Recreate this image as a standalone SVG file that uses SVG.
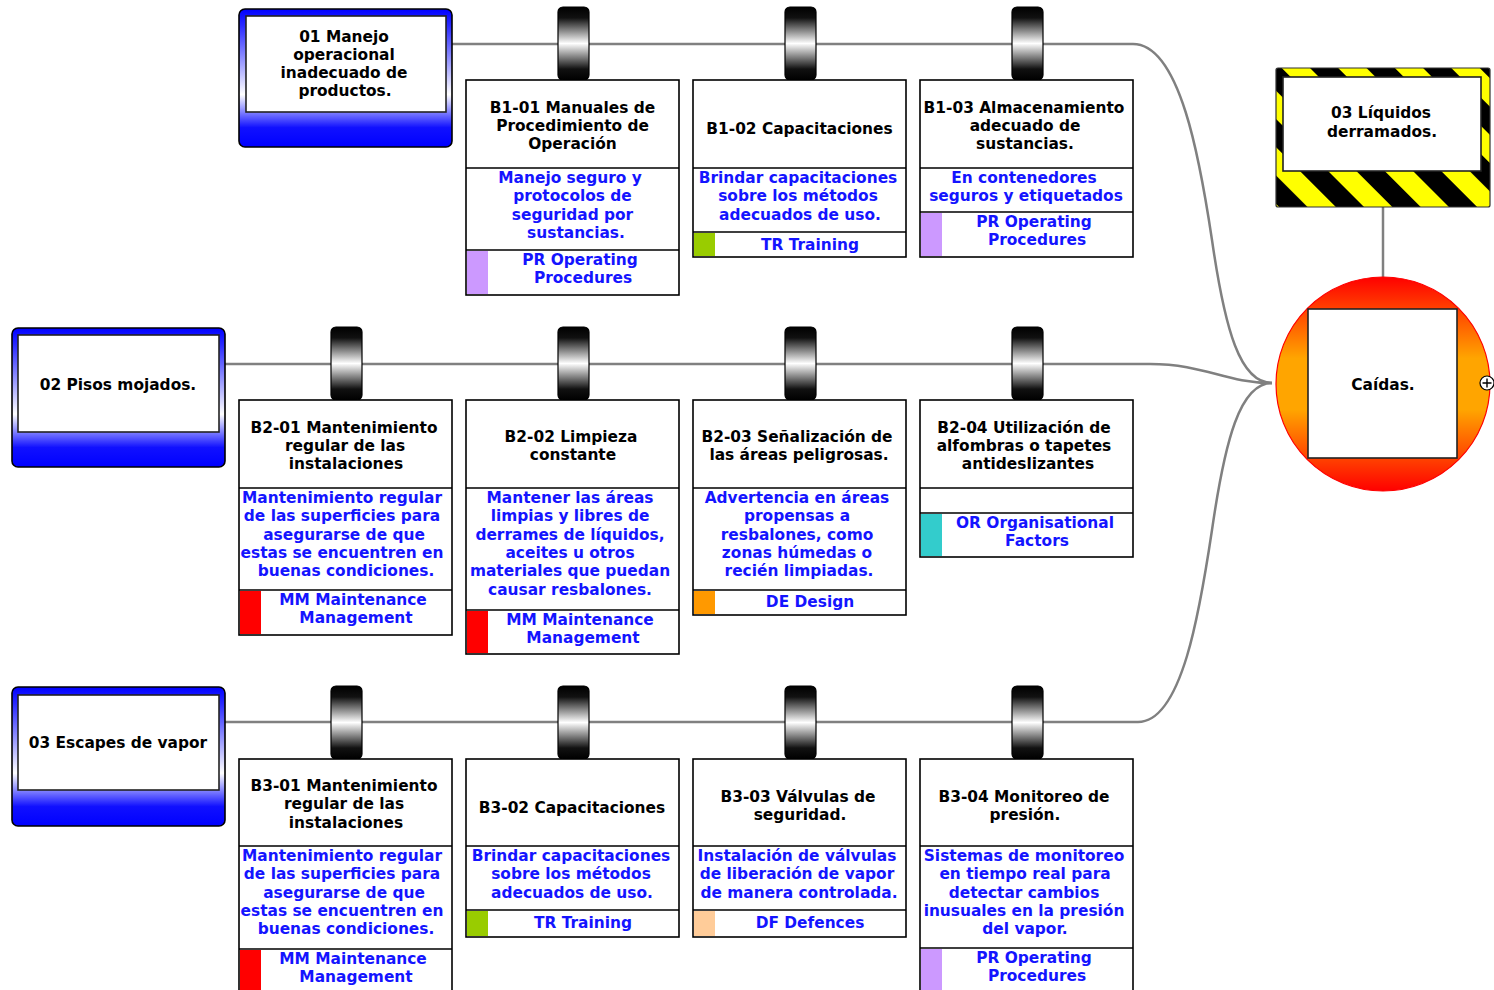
<svg xmlns="http://www.w3.org/2000/svg" width="1494" height="990" viewBox="0 0 1494 990">
<defs>
<linearGradient id="threatG" x1="0" y1="0" x2="0" y2="1">
<stop offset="0" stop-color="#0000ff"/>
<stop offset="0.12" stop-color="#2a2aff"/>
<stop offset="0.62" stop-color="#ffffff"/>
<stop offset="0.86" stop-color="#1010ff"/>
<stop offset="1" stop-color="#0000ff"/>
</linearGradient>
<linearGradient id="pillarG" x1="0" y1="0" x2="0" y2="1">
<stop offset="0" stop-color="#000"/>
<stop offset="0.15" stop-color="#111"/>
<stop offset="0.5" stop-color="#fff"/>
<stop offset="0.85" stop-color="#111"/>
<stop offset="1" stop-color="#000"/>
</linearGradient>
<linearGradient id="topG" x1="0" y1="0" x2="0" y2="1">
<stop offset="0" stop-color="#ff0000"/>
<stop offset="0.38" stop-color="#ffa500"/>
<stop offset="0.62" stop-color="#ffa500"/>
<stop offset="1" stop-color="#ff0000"/>
</linearGradient>
<pattern id="haz" patternUnits="userSpaceOnUse" width="40" height="40" patternTransform="rotate(-45 1276 68)">
<rect width="40" height="40" fill="#000"/>
<rect width="20" height="40" fill="#ffff00"/>
</pattern>
</defs>
<style>
.t{font-family:"DejaVu Sans",Verdana,sans-serif;font-weight:bold;font-size:15.4px;text-anchor:middle}
.n{fill:#000}
.d{fill:#1414ff}
.box{fill:#fff;stroke:#000;stroke-width:1.6}
.sep{fill:none;stroke:#000;stroke-width:1.6}
.conn{fill:none;stroke:#808080;stroke-width:2.5}
.pil{fill:url(#pillarG);stroke:#000;stroke-width:1.2}
.thr{fill:url(#threatG);stroke:#000;stroke-width:1.6}
.inner{fill:#fff;stroke:#222;stroke-width:1.6}
</style>
<rect width="1494" height="990" fill="#fff"/>

<g id="connectors">
<path class="conn" d="M452 44H1133C1180 44 1200 160 1212 240C1225 330 1240 383 1272 383"/>
<path class="conn" d="M225 364H1150C1205 364 1225 383 1272 383"/>
<path class="conn" d="M225 722H1138C1182 722 1200 610 1212 530C1225 440 1240 383 1272 383"/>
<path class="conn" d="M1383 207V277"/>
</g>

<g id="pillars">
<rect class="pil" x="558" y="7" width="31" height="73" rx="5"/>
<rect class="pil" x="785" y="7" width="31" height="73" rx="5"/>
<rect class="pil" x="1012" y="7" width="31" height="73" rx="5"/>
<rect class="pil" x="331" y="327" width="31" height="73" rx="5"/>
<rect class="pil" x="558" y="327" width="31" height="73" rx="5"/>
<rect class="pil" x="785" y="327" width="31" height="73" rx="5"/>
<rect class="pil" x="1012" y="327" width="31" height="73" rx="5"/>
<rect class="pil" x="331" y="686" width="31" height="73" rx="5"/>
<rect class="pil" x="558" y="686" width="31" height="73" rx="5"/>
<rect class="pil" x="785" y="686" width="31" height="73" rx="5"/>
<rect class="pil" x="1012" y="686" width="31" height="73" rx="5"/>
</g>

<g id="T1">
<rect class="thr" x="239" y="9" width="213" height="138" rx="6"/>
<rect class="inner" x="246" y="16" width="200" height="96"/>
<text class="t n"><tspan x="344" y="41.5">01 Manejo</tspan><tspan x="344" y="59.7">operacional</tspan><tspan x="344" y="77.9">inadecuado de</tspan><tspan x="345" y="96.1">productos.</tspan></text>
</g>
<g id="T2">
<rect class="thr" x="12" y="328" width="213" height="139" rx="6"/>
<rect class="inner" x="18" y="335" width="201" height="97"/>
<text class="t n" x="118" y="390">02 Pisos mojados.</text>
</g>
<g id="T3">
<rect class="thr" x="12" y="687" width="213" height="139" rx="6"/>
<rect class="inner" x="18" y="695" width="201" height="95"/>
<text class="t n" x="118" y="748">03 Escapes de vapor</text>
</g>

<g id="hazard">
<rect x="1276" y="68" width="214" height="139" fill="url(#haz)" stroke="#333" stroke-width="1.2" rx="2"/>
<rect class="inner" x="1283" y="77" width="198" height="94"/>
<text class="t n"><tspan x="1381" y="118">03 Líquidos</tspan><tspan x="1382" y="136.5">derramados.</tspan></text>
</g>

<g id="top-event">
<circle cx="1383" cy="384" r="107" fill="url(#topG)" stroke="#ff0000" stroke-width="1.2"/>
<rect class="inner" x="1308" y="309" width="149" height="149"/>
<text class="t n" x="1383" y="390">Caídas.</text>
<circle cx="1487" cy="383" r="7" fill="#fff" stroke="#000" stroke-width="1.2"/>
<path d="M1482.5 383H1491.5M1487 378.5V387.5" stroke="#000" stroke-width="1.4"/>
</g>

<g id="B1-01">
<rect class="box" x="466" y="80" width="213" height="215"/>
<rect x="467" y="251" width="21" height="43" fill="#cc99ff"/>
<path class="sep" d="M466 168H679M466 250H679"/>
<text class="t n"><tspan x="572.5" y="112.5">B1-01 Manuales de</tspan><tspan x="572.5" y="130.9">Procedimiento de</tspan><tspan x="572.5" y="149.3">Operación</tspan></text>
<text class="t d"><tspan x="570" y="183">Manejo seguro y</tspan><tspan x="572.5" y="201.3">protocolos de</tspan><tspan x="572.5" y="219.6">seguridad por</tspan><tspan x="576" y="237.9">sustancias.</tspan></text>
<text class="t d"><tspan x="580" y="265">PR Operating</tspan><tspan x="583" y="283.4">Procedures</tspan></text>
</g>
<g id="B1-02">
<rect class="box" x="693" y="80" width="213" height="177"/>
<rect x="694" y="233" width="21" height="23" fill="#99cc00"/>
<path class="sep" d="M693 168H906M693 232H906"/>
<text class="t n" x="799.5" y="134">B1-02 Capacitaciones</text>
<text class="t d"><tspan x="798" y="183">Brindar capacitaciones</tspan><tspan x="798" y="201.3">sobre los métodos</tspan><tspan x="800" y="219.6">adecuados de uso.</tspan></text>
<text class="t d" x="810" y="249.5">TR Training</text>
</g>
<g id="B1-03">
<rect class="box" x="920" y="80" width="213" height="177"/>
<rect x="921" y="213" width="21" height="43" fill="#cc99ff"/>
<path class="sep" d="M920 168H1133M920 212H1133"/>
<text class="t n"><tspan x="1024" y="112.5">B1-03 Almacenamiento</tspan><tspan x="1025" y="130.9">adecuado de</tspan><tspan x="1025" y="149.3">sustancias.</tspan></text>
<text class="t d"><tspan x="1024" y="183">En contenedores</tspan><tspan x="1026" y="201.3">seguros y etiquetados</tspan></text>
<text class="t d"><tspan x="1034" y="227">PR Operating</tspan><tspan x="1037" y="245.4">Procedures</tspan></text>
</g>

<g id="B2-01">
<rect class="box" x="239" y="400" width="213" height="235"/>
<rect x="240" y="591" width="21" height="43" fill="#ff0000"/>
<path class="sep" d="M239 488H452M239 590H452"/>
<text class="t n"><tspan x="344" y="432.5">B2-01 Mantenimiento</tspan><tspan x="345" y="450.9">regular de las</tspan><tspan x="346" y="469.3">instalaciones</tspan></text>
<text class="t d"><tspan x="342" y="503">Mantenimiento regular</tspan><tspan x="342" y="521.3">de las superficies para</tspan><tspan x="344" y="539.6">asegurarse de que</tspan><tspan x="342" y="557.9">estas se encuentren en</tspan><tspan x="346" y="576.2">buenas condiciones.</tspan></text>
<text class="t d"><tspan x="353" y="605">MM Maintenance</tspan><tspan x="356" y="623.4">Management</tspan></text>
</g>
<g id="B2-02">
<rect class="box" x="466" y="400" width="213" height="254"/>
<rect x="467" y="611" width="21" height="42" fill="#ff0000"/>
<path class="sep" d="M466 488H679M466 610H679"/>
<text class="t n"><tspan x="571" y="442">B2-02 Limpieza</tspan><tspan x="573" y="460.4">constante</tspan></text>
<text class="t d"><tspan x="570" y="503">Mantener las áreas</tspan><tspan x="570" y="521.3">limpias y libres de</tspan><tspan x="570" y="539.6">derrames de líquidos,</tspan><tspan x="570" y="557.9">aceites u otros</tspan><tspan x="570" y="576.2">materiales que puedan</tspan><tspan x="570" y="594.5">causar resbalones.</tspan></text>
<text class="t d"><tspan x="580" y="625">MM Maintenance</tspan><tspan x="583" y="643.4">Management</tspan></text>
</g>
<g id="B2-03">
<rect class="box" x="693" y="400" width="213" height="215"/>
<rect x="694" y="591" width="21" height="23" fill="#ff9900"/>
<path class="sep" d="M693 488H906M693 590H906"/>
<text class="t n"><tspan x="797" y="442">B2-03 Señalización de</tspan><tspan x="799" y="460.4">las áreas peligrosas.</tspan></text>
<text class="t d"><tspan x="797" y="503">Advertencia en áreas</tspan><tspan x="797" y="521.3">propensas a</tspan><tspan x="797" y="539.6">resbalones, como</tspan><tspan x="797" y="557.9">zonas húmedas o</tspan><tspan x="799" y="576.2">recién limpiadas.</tspan></text>
<text class="t d" x="810" y="607">DE Design</text>
</g>
<g id="B2-04">
<rect class="box" x="920" y="400" width="213" height="157"/>
<rect x="921" y="514" width="21" height="42" fill="#33cccc"/>
<path class="sep" d="M920 488H1133M920 513H1133"/>
<text class="t n"><tspan x="1024" y="432.5">B2-04 Utilización de</tspan><tspan x="1024" y="450.9">alfombras o tapetes</tspan><tspan x="1028" y="469.3">antideslizantes</tspan></text>
<text class="t d"><tspan x="1035" y="528">OR Organisational</tspan><tspan x="1037" y="546.4">Factors</tspan></text>
</g>

<g id="B3-01">
<rect class="box" x="239" y="759" width="213" height="236"/>
<rect x="240" y="950" width="21" height="44" fill="#ff0000"/>
<path class="sep" d="M239 846H452M239 949H452"/>
<text class="t n"><tspan x="344" y="791">B3-01 Mantenimiento</tspan><tspan x="344" y="809.4">regular de las</tspan><tspan x="346" y="827.8">instalaciones</tspan></text>
<text class="t d"><tspan x="342" y="861">Mantenimiento regular</tspan><tspan x="342" y="879.3">de las superficies para</tspan><tspan x="344" y="897.6">asegurarse de que</tspan><tspan x="342" y="915.9">estas se encuentren en</tspan><tspan x="346" y="934.2">buenas condiciones.</tspan></text>
<text class="t d"><tspan x="353" y="964">MM Maintenance</tspan><tspan x="356" y="982.4">Management</tspan></text>
</g>
<g id="B3-02">
<rect class="box" x="466" y="759" width="213" height="178"/>
<rect x="467" y="911" width="21" height="25" fill="#99cc00"/>
<path class="sep" d="M466 846H679M466 910H679"/>
<text class="t n" x="572" y="812.5">B3-02 Capacitaciones</text>
<text class="t d"><tspan x="571" y="861">Brindar capacitaciones</tspan><tspan x="571" y="879.3">sobre los métodos</tspan><tspan x="572" y="897.6">adecuados de uso.</tspan></text>
<text class="t d" x="583" y="927.5">TR Training</text>
</g>
<g id="B3-03">
<rect class="box" x="693" y="759" width="213" height="178"/>
<rect x="694" y="911" width="21" height="25" fill="#ffcc99"/>
<path class="sep" d="M693 846H906M693 910H906"/>
<text class="t n"><tspan x="798" y="801.5">B3-03 Válvulas de</tspan><tspan x="800" y="819.9">seguridad.</tspan></text>
<text class="t d"><tspan x="797" y="861">Instalación de válvulas</tspan><tspan x="797" y="879.3">de liberación de vapor</tspan><tspan x="799" y="897.6">de manera controlada.</tspan></text>
<text class="t d" x="810" y="927.5">DF Defences</text>
</g>
<g id="B3-04">
<rect class="box" x="920" y="759" width="213" height="236"/>
<rect x="921" y="949" width="21" height="45" fill="#cc99ff"/>
<path class="sep" d="M920 846H1133M920 948H1133"/>
<text class="t n"><tspan x="1024" y="801.5">B3-04 Monitoreo de</tspan><tspan x="1025" y="819.9">presión.</tspan></text>
<text class="t d"><tspan x="1024" y="861">Sistemas de monitoreo</tspan><tspan x="1025" y="879.3">en tiempo real para</tspan><tspan x="1024" y="897.6">detectar cambios</tspan><tspan x="1024" y="915.9">inusuales en la presión</tspan><tspan x="1025" y="934.2">del vapor.</tspan></text>
<text class="t d"><tspan x="1034" y="963">PR Operating</tspan><tspan x="1037" y="981.4">Procedures</tspan></text>
</g>
</svg>
